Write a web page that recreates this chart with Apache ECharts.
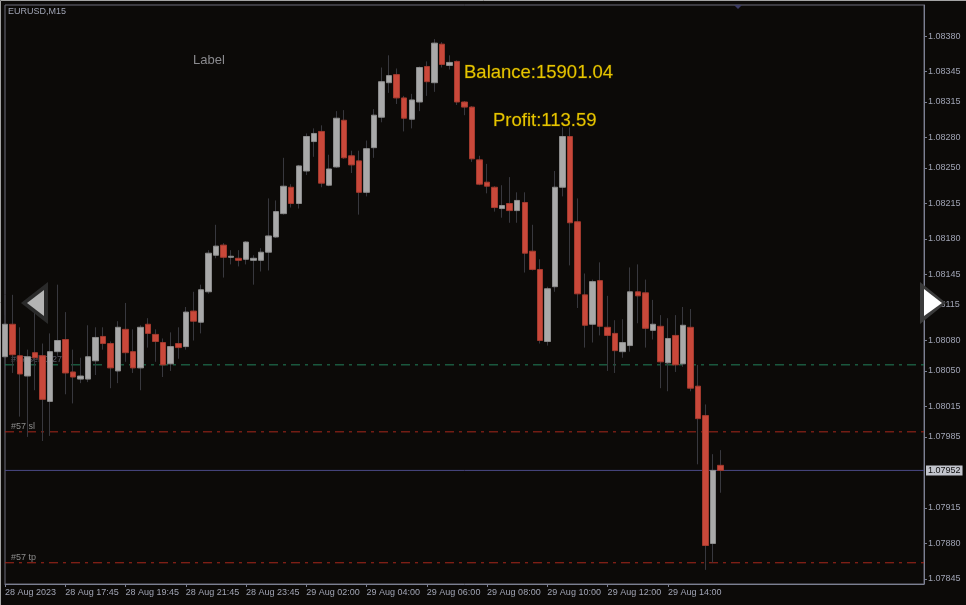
<!DOCTYPE html>
<html><head><meta charset="utf-8">
<script src="https://cdn.jsdelivr.net/npm/echarts/dist/echarts.min.js"></script>
<style>html,body{margin:0;padding:0;background:#0c0a08;}#c{width:966px;height:605px;}</style>
</head><body><div id="c"></div>
<script>
// ---- data ----
const day28Times = ['15:45','16:00','16:15','16:30','16:45','17:00','17:15','17:30','17:45','18:00','18:15','18:30','18:45','19:00','19:15','19:30','19:45','20:00','20:15','20:30','20:45','21:00','21:15','21:30','21:45','22:00','22:15','22:30','22:45','23:00','23:15','23:30','23:45'];
const day29Times = ['00:15','00:30','00:45','01:00','01:15','01:30','01:45','02:00','02:15','02:30','02:45','03:00','03:15','03:30','03:45','04:00','04:15','04:30','04:45','05:00','05:15','05:30','05:45','06:00','06:15','06:30','06:45','07:00','07:15','07:30','07:45','08:00','08:15','08:30','08:45','09:00','09:15','09:30','09:45','10:00','10:15','10:30','10:45','11:00','11:15','11:30','11:45','12:00','12:15','12:30','12:45','13:00','13:15','13:30','13:45','14:00','14:15','14:30','14:45','15:00','15:15','15:30','15:45'];
const xTickLabels = ['28 Aug 2023','28 Aug 17:45','28 Aug 19:45','28 Aug 21:45','28 Aug 23:45','29 Aug 02:00','29 Aug 04:00','29 Aug 06:00','29 Aug 08:00','29 Aug 10:00','29 Aug 12:00','29 Aug 14:00'];
const opens = [1.08064,1.08096,1.08065,1.08045,1.08068,1.08065,1.08020,1.08069,1.08081,1.08049,1.08042,1.08042,1.08060,1.08084,1.08077,1.08050,1.08091,1.08069,1.08053,1.08096,1.08086,1.08078,1.08057,1.08077,1.08074,1.08109,1.08098,1.08128,1.08164,1.08174,1.08162,1.08161,1.08160,1.08159,1.08159,1.08167,1.08182,1.08205,1.08231,1.08215,1.08247,1.08276,1.08286,1.08233,1.08251,1.08297,1.08262,1.08257,1.08226,1.08270,1.08300,1.08334,1.08342,1.08319,1.08298,1.08315,1.08350,1.08334,1.08372,1.08351,1.08355,1.08315,1.08310,1.08258,1.08236,1.08231,1.08210,1.08215,1.08208,1.08216,1.08168,1.08150,1.08079,1.08133,1.08231,1.08281,1.08197,1.08125,1.08096,1.08139,1.08093,1.08087,1.08069,1.08075,1.08128,1.08127,1.08090,1.08094,1.08058,1.08085,1.08057,1.08093,1.08035,1.08006,1.07880,1.07957];
const closes = [1.08096,1.08066,1.08047,1.08064,1.08063,1.08022,1.08069,1.08080,1.08048,1.08044,1.08045,1.08064,1.08083,1.08077,1.08053,1.08093,1.08068,1.08053,1.08093,1.08087,1.08079,1.08056,1.08074,1.08073,1.08108,1.08099,1.08130,1.08166,1.08173,1.08162,1.08163,1.08159,1.08177,1.08161,1.08167,1.08183,1.08207,1.08232,1.08215,1.08252,1.08281,1.08284,1.08235,1.08249,1.08299,1.08260,1.08253,1.08226,1.08269,1.08302,1.08335,1.08341,1.08319,1.08299,1.08317,1.08349,1.08335,1.08373,1.08352,1.08354,1.08315,1.08310,1.08259,1.08234,1.08232,1.08211,1.08213,1.08208,1.08218,1.08166,1.08150,1.08080,1.08131,1.08231,1.08281,1.08196,1.08126,1.08095,1.08138,1.08094,1.08085,1.08070,1.08078,1.08128,1.08124,1.08092,1.08096,1.08059,1.08082,1.08056,1.08095,1.08033,1.08003,1.07878,1.07952,1.07952];
const lows = [1.08061,1.08048,1.08005,1.07985,1.08031,1.07981,1.07986,1.08065,1.08027,1.08018,1.08038,1.08039,1.08046,1.08071,1.08033,1.08038,1.08059,1.08048,1.08031,1.08073,1.08059,1.08044,1.08050,1.08062,1.08071,1.08080,1.08087,1.08126,1.08161,1.08142,1.08155,1.08153,1.08155,1.08135,1.08148,1.08149,1.08181,1.08204,1.08211,1.08210,1.08243,1.08261,1.08231,1.08232,1.08250,1.08259,1.08245,1.08204,1.08222,1.08260,1.08295,1.08324,1.08313,1.08286,1.08289,1.08306,1.08321,1.08325,1.08349,1.08347,1.08312,1.08302,1.08256,1.08233,1.08225,1.08207,1.08201,1.08196,1.08196,1.08147,1.08149,1.08077,1.08075,1.08128,1.08222,1.08154,1.08112,1.08073,1.08078,1.08085,1.08050,1.08048,1.08063,1.08069,1.08097,1.08073,1.08081,1.08033,1.08030,1.08049,1.08054,1.08030,1.07958,1.07854,1.07861,1.07930];
const highs = [1.08105,1.08125,1.08093,1.08071,1.08109,1.08077,1.08087,1.08135,1.08108,1.08071,1.08063,1.08095,1.08093,1.08093,1.08079,1.08099,1.08117,1.08091,1.08095,1.08102,1.08091,1.08082,1.08088,1.08093,1.08113,1.08128,1.08135,1.08169,1.08194,1.08176,1.08169,1.08169,1.08178,1.08164,1.08171,1.08220,1.08218,1.08260,1.08234,1.08253,1.08284,1.08289,1.08292,1.08263,1.08306,1.08307,1.08267,1.08267,1.08277,1.08308,1.08349,1.08361,1.08348,1.08321,1.08323,1.08350,1.08355,1.08377,1.08374,1.08361,1.08356,1.08316,1.08311,1.08262,1.08254,1.08232,1.08233,1.08241,1.08226,1.08226,1.08194,1.08160,1.08133,1.08247,1.08290,1.08290,1.08220,1.08146,1.08140,1.08157,1.08124,1.08100,1.08101,1.08152,1.08155,1.08140,1.08120,1.08105,1.08102,1.08105,1.08113,1.08111,1.08056,1.08017,1.07968,1.07972];
const yTickValues = [1.08380,1.08345,1.08315,1.08280,1.08250,1.08215,1.08180,1.08145,1.08115,1.08080,1.08050,1.08015,1.07985,1.07915,1.07880,1.07845];
const entryPrice = 1.08056, slPrice = 1.07990, tpPrice = 1.07861, bidPrice = 1.07952;
const orderLabel = '#57 sell 0.27', slLabel = '#57 sl', tpLabel = '#57 tp';
const symbolText = 'EURUSD,M15', balanceText = 'Balance:15901.04', profitText = 'Profit:113.59', labelText = 'Label';

// ---- build ----
const barTimes = day28Times.map(t => '28 Aug ' + t).concat(day29Times.map(t => '29 Aug ' + t));
const nBars = barTimes.length;
const futureSlots = 27; // chart shift (empty space right of last bar)
const xCats = barTimes.concat(new Array(futureSlots).fill(''));
const lastSlot = xCats.length - 1;
const fullData = opens.map((o, i) => [o, closes[i], lows[i], highs[i]]);
const bodyData = opens.map((o, i) => [o, closes[i], Math.min(o, closes[i]), Math.max(o, closes[i])]);

const FONT = '"Liberation Sans", Arial, sans-serif';
const axisTxt = '#a0a4b4';
const dashDot = [9, 5, 3, 5];

function hLine(name, price, color, type, leftLabel, leftColor, z) {
  return {
    name: name, type: 'line', z: z, silent: true, clip: false,
    symbol: 'circle', symbolSize: 0, showSymbol: true,
    lineStyle: {color: color, width: 1, type: type},
    itemStyle: {color: color},
    data: [
      {value: [0, price], label: leftLabel ? {show: true, formatter: leftLabel, position: [6, -10], color: leftColor, fontSize: 9, fontFamily: FONT} : {show: false}},
      {value: [lastSlot, price], label: {show: false}}
    ]
  };
}

const bidSeries = hLine('bid', bidPrice, '#4a4a86', 'solid', null, null, 2);
bidSeries.data[1].label = {show: true, formatter: bidPrice.toFixed(5), position: 'right', distance: 2, color: '#111',
  backgroundColor: '#c2c4cc', padding: [1, 2, 0, 2], fontSize: 9, fontFamily: FONT};

const chart = echarts.init(document.getElementById('c'), null, {renderer: 'canvas'});
chart.setOption({
  animation: false,
  backgroundColor: '#0c0a08',
  grid: {left: 5, right: 42, top: 5, bottom: 21, show: true, borderColor: '#6c6c7a', borderWidth: 1, backgroundColor: 'transparent'},
  xAxis: {
    type: 'category', data: xCats, boundaryGap: false,
    axisLine: {show: true, lineStyle: {color: '#7c8092', width: 1}},
    axisTick: {show: true, length: 3, interval: (i) => i % 8 === 0 && i < nBars, lineStyle: {color: '#7c8092'}},
    axisLabel: {show: true, interval: (i) => i % 8 === 0 && i < nBars, align: 'left', margin: 4,
      color: axisTxt, fontSize: 9, fontFamily: FONT,
      formatter: (v, i) => xTickLabels[i / 8] || ''},
    splitLine: {show: false}
  },
  yAxis: {
    type: 'value', position: 'right', scale: true, min: 1.0784008, max: 1.0841057,
    axisLine: {show: true, lineStyle: {color: '#7c8092', width: 1}},
    axisTick: {show: true, length: 3, customValues: yTickValues, lineStyle: {color: '#7c8092'}},
    axisLabel: {show: true, customValues: yTickValues, margin: 4, color: axisTxt, fontSize: 9, fontFamily: FONT,
      formatter: (v) => v.toFixed(5)},
    splitLine: {show: false}
  },
  series: [
    hLine('order', entryPrice, '#22805a', dashDot, orderLabel, '#5a5a66', 1),
    hLine('sl', slPrice, '#a8281c', dashDot, slLabel, '#8c8c8c', 1),
    hLine('tp', tpPrice, '#a8281c', dashDot, tpLabel, '#8c8c8c', 1),
    bidSeries,
    {
      name: 'wicks', type: 'candlestick', data: fullData, barWidth: 1, z: 2, clip: true,
      itemStyle: {color: '#38383e', color0: '#38383e', borderColor: '#38383e', borderColor0: '#38383e', borderWidth: 1}
    },
    {
      name: 'bodies', type: 'candlestick', data: bodyData, barWidth: 6, z: 3, clip: true,
      itemStyle: {color: '#a9a9a9', color0: '#c9483a', borderColor: '#8c8c8c', borderColor0: '#a33a2e', borderWidth: 1}
    }
  ],
  graphic: [
    {type: 'polyline', silent: true, z: 100, shape: {points: [[0.5, 605], [0.5, 0.5], [966, 0.5]]}, style: {stroke: '#a4a4a4', lineWidth: 1, fill: null}},
    {type: 'text', silent: true, z: 100, style: {text: symbolText, x: 8, y: 12, fill: '#a0a4b4', font: '9px ' + FONT, verticalAlign: 'middle'}},
    {type: 'text', silent: true, z: 100, style: {text: labelText, x: 193, y: 60, fill: '#8a8a8e', font: '13px ' + FONT, verticalAlign: 'middle'}},
    {type: 'text', silent: true, z: 100, style: {text: balanceText, x: 464, y: 73, fill: '#e6c400', stroke: '#3a3000', lineWidth: 1, font: '18.5px ' + FONT, verticalAlign: 'middle'}},
    {type: 'text', silent: true, z: 100, style: {text: profitText, x: 493, y: 121, fill: '#e6c400', stroke: '#3a3000', lineWidth: 1, font: '18.5px ' + FONT, verticalAlign: 'middle'}},
    {type: 'polygon', silent: true, z: 100, shape: {points: [[21, 303], [48, 282], [48, 324]]}, style: {fill: '#2a2a2a'}},
    {type: 'polygon', silent: true, z: 101, shape: {points: [[27, 303], [44, 290], [44, 316]]}, style: {fill: '#b4b4b4'}},
    {type: 'polygon', silent: true, z: 100, shape: {points: [[920, 282], [946, 303], [920, 324]]}, style: {fill: '#3a3a3a'}},
    {type: 'polygon', silent: true, z: 101, shape: {points: [[924, 289], [942, 303], [924, 316]]}, style: {fill: '#ffffff'}},
    {type: 'polygon', silent: true, z: 100, shape: {points: [[734, 5], [742, 5], [738, 9]]}, style: {fill: '#3c3c64'}}
  ]
});
</script></body></html>
